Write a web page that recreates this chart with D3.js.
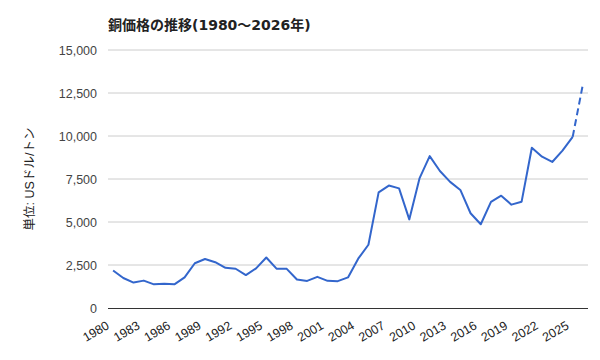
<!DOCTYPE html>
<html><head><meta charset="utf-8">
<script src="https://cdn.jsdelivr.net/npm/d3@7/dist/d3.min.js"></script>
<style>body{margin:0;background:#fff;}svg{display:block;font-family:"Liberation Sans",Arial,"Noto Sans CJK JP",sans-serif;}</style>
</head><body>
<svg id="c" width="600" height="360"></svg>
<script>
const years = d3.range(1980, 2027);
const prices = [2182,1742,1480,1592,1377,1417,1374,1783,2602,2848,2662,2339,2281,1913,2307,2935,2289,2276,1654,1573,1813,1578,1559,1779,2866,3679,6722,7118,6956,5150,7535,8828,7962,7332,6863,5510,4868,6170,6530,6010,6181,9317,8797,8490,9147,9950,13000];
const yTicks = [0,2500,5000,7500,10000,12500,15000];
const xTickYears = d3.range(1980, 2026, 3);
const title = "銅価格の推移(1980～2026年)";
const yTitle = "単位: USドル/トン";
const forecastFrom = 2025;

const svg = d3.select("#c");
const L = 108, R = 588, T = 50, B = 308;
const x = d3.scaleBand().domain(years).range([L, R]);
const cx = d => x(d) + x.bandwidth()/2;
const y = d3.scaleLinear().domain([0,15000]).range([B, T]);

svg.append("g").selectAll("line").data(yTicks.filter(v=>v>0)).join("line")
  .attr("x1", L).attr("x2", R).attr("y1", d=>y(d)).attr("y2", d=>y(d))
  .attr("stroke", "#cccccc").attr("stroke-width", 1);

const ya = svg.append("g").attr("transform", `translate(${L},0)`)
  .call(d3.axisLeft(y).tickValues(yTicks).tickFormat(d3.format(",")).tickSize(0).tickPadding(11));
ya.select(".domain").remove();
ya.selectAll("text").attr("fill", "#444").style("font-size", "12.5px");

svg.append("line").attr("x1", L).attr("x2", R).attr("y1", B+0.5).attr("y2", B+0.5)
  .attr("stroke", "#333").attr("stroke-width", 1);

const xa = svg.append("g").attr("transform", `translate(0,${B})`)
  .call(d3.axisBottom(x).tickValues(xTickYears).tickSize(0).tickPadding(0));
xa.select(".domain").remove();
xa.selectAll("text").attr("fill", "#222").style("font-size", "12.5px")
  .attr("text-anchor", "end").attr("dy", 0)
  .attr("transform", `translate(-3,20) rotate(-30)`);

const data = years.map((yr,i)=>({yr, v: prices[i]}));
const line = d3.line().x(d=>cx(d.yr)).y(d=>y(d.v));
svg.append("path").datum(data.filter(d=>d.yr<=forecastFrom))
  .attr("d", line).attr("fill","none").attr("stroke","#3366cc").attr("stroke-width",2).attr("stroke-linejoin","round");
svg.append("path").datum(data.filter(d=>d.yr>=forecastFrom))
  .attr("d", line).attr("fill","none").attr("stroke","#3366cc").attr("stroke-width",2).attr("stroke-dasharray","7,4");

svg.append("text").attr("x", L).attr("y", 30).text(title)
  .attr("font-weight","bold").style("font-size","14px").style("font-family","'DejaVu Sans','Noto Sans CJK JP',sans-serif").attr("fill","#222");

svg.append("text").attr("transform", `translate(34,${(T+B)/2}) rotate(-90)`)
  .attr("text-anchor","middle").text(yTitle).style("font-size","12.5px").attr("fill","#222");
</script>
</body></html>
